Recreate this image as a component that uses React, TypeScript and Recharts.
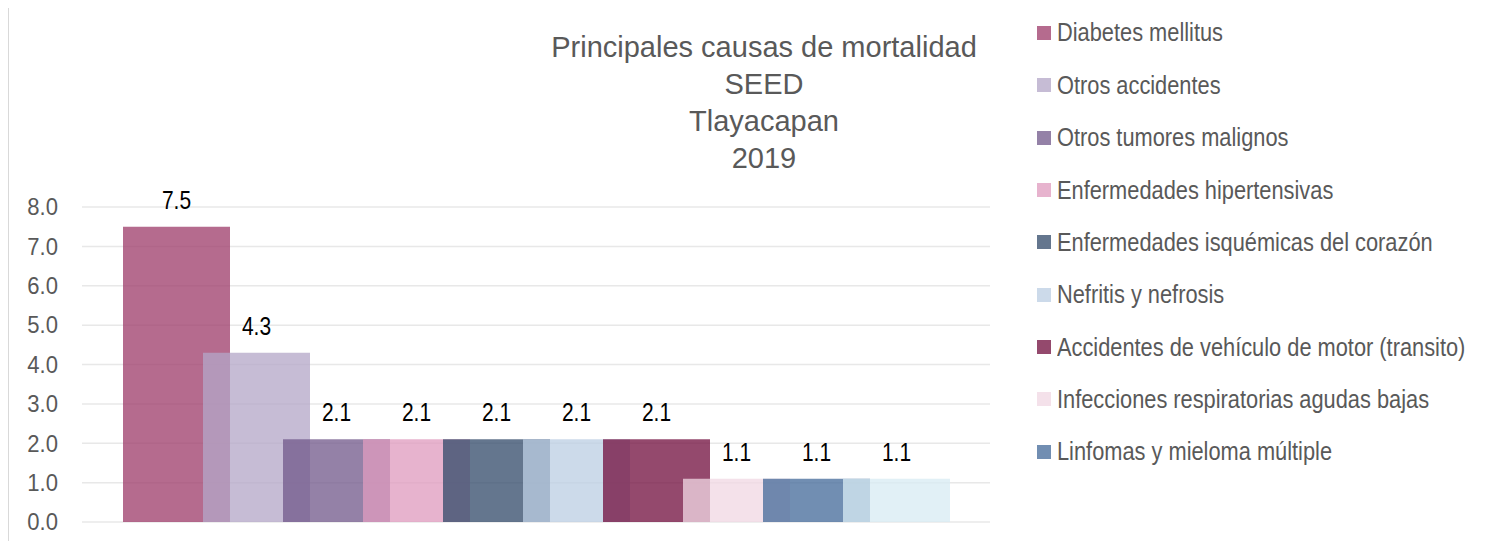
import { BarChart, Bar, XAxis, YAxis, CartesianGrid, LabelList } from "recharts";

const causes = [
  "Diabetes mellitus",
  "Otros accidentes",
  "Otros tumores malignos",
  "Enfermedades hipertensivas",
  "Enfermedades isquémicas del corazón",
  "Nefritis y nefrosis",
  "Accidentes de vehículo de motor (transito)",
  "Infecciones respiratorias agudas bajas",
  "Linfomas y mieloma múltiple",
  "Otras causas",
];

const rates = [7.5, 4.3, 2.1, 2.1, 2.1, 2.1, 2.1, 1.1, 1.1, 1.1];

// only the first nine appear in the original legend
const legendCount = 9;

const yTicks = [0, 1, 2, 3, 4, 5, 6, 7, 8];

const titleLines = ["Principales causas de mortalidad", "SEED", "Tlayacapan", "2019"];

const COLORS = [
  "#9e3c6b", // diabetes
  "#b4a7c8", // otros accidentes
  "#72598b", // tumores
  "#e09bbf", // hipertensivas
  "#334b6b", // isquemicas
  "#bccfe3", // nefritis
  "#72103f", // vehiculo
  "#f0d7e3", // infecciones
  "#446b9a", // linfomas
  "#d8ebf3", // otras
];

const OPACITY = 0.76;
const FONT = '"Liberation Sans", Arial, sans-serif';
const GREY = "#595959";

const row: Record<string, string | number> = { name: "2019" };
causes.forEach((c, i) => {
  row[`s${i}`] = rates[i];
});
const chartData = [row];

// excel renders these a bit condensed, squeeze horizontally
const YTick = (props: any) => {
  const { x, y, payload } = props;
  return (
    <text
      transform={`translate(${x},${y}) scale(0.92,1)`}
      textAnchor="end"
      dominantBaseline="central"
      fill={GREY}
      fontSize={24}
      fontFamily={FONT}
    >
      {Number(payload.value).toFixed(1)}
    </text>
  );
};

const ValueLabel = (props: any) => {
  const { x, y, width, value } = props;
  const cx = Number(x) + Number(width) / 2;
  const cy = Number(y) - 18;
  return (
    <text
      transform={`translate(${cx},${cy}) scale(0.84,1)`}
      textAnchor="middle"
      fill="#000"
      fontSize={25}
      fontFamily={FONT}
    >
      {Number(value).toFixed(1)}
    </text>
  );
};

export default function App() {
  return (
    <div
      style={{
        margin: -8,
        width: 1504,
        height: 549,
        position: "relative",
        overflow: "hidden",
        background: "#fff",
      }}
    >
      <div
        style={{
          position: "absolute",
          left: 7,
          top: 6,
          width: 1600,
          height: 700,
          borderTop: "2px solid #d9d9d9",
          borderLeft: "2px solid #d9d9d9",
        }}
      />
      <div
        style={{
          position: "absolute",
          left: 764 - 300,
          top: 29,
          width: 600,
          textAlign: "center",
          fontFamily: FONT,
          fontSize: 29,
          lineHeight: "37px",
          color: GREY,
        }}
      >
        {titleLines.map((t) => (
          <div key={t}>{t}</div>
        ))}
      </div>
      <div style={{ position: "absolute", left: 0, top: 0 }}>
        <BarChart
          width={1000}
          height={549}
          data={chartData}
          margin={{ top: 207, right: 10, bottom: 27, left: 0 }}
          barSize={107}
          barGap={-27}
        >
          <CartesianGrid vertical={false} stroke="#e8e8e8" strokeWidth={1.5} />
          <XAxis dataKey="name" hide />
          <YAxis
            width={82}
            domain={[0, 8]}
            ticks={yTicks}
            interval={0}
            axisLine={false}
            tickLine={false}
            tickSize={6}
            tickMargin={18}
            tick={<YTick />}
          />
          {causes.map((c, i) => (
            <Bar
              key={c}
              dataKey={`s${i}`}
              name={c}
              fill={COLORS[i]}
              fillOpacity={OPACITY}
              isAnimationActive={false}
            >
              <LabelList dataKey={`s${i}`} content={<ValueLabel />} />
            </Bar>
          ))}
        </BarChart>
      </div>
      <div style={{ position: "absolute", left: 1037, top: 33 - 26.2 }}>
        {causes.slice(0, legendCount).map((c, i) => (
          <div
            key={c}
            style={{ height: 52.35, display: "flex", alignItems: "center", whiteSpace: "nowrap" }}
          >
            <span
              style={{
                display: "inline-block",
                width: 14,
                height: 14,
                background: COLORS[i],
                opacity: OPACITY,
                marginRight: 6,
                flexShrink: 0,
              }}
            />
            <span
              style={{
                display: "inline-block",
                fontFamily: FONT,
                fontSize: 25,
                color: GREY,
                transform: "scaleX(0.872)",
                transformOrigin: "left center",
              }}
            >
              {c}
            </span>
          </div>
        ))}
      </div>
    </div>
  );
}
